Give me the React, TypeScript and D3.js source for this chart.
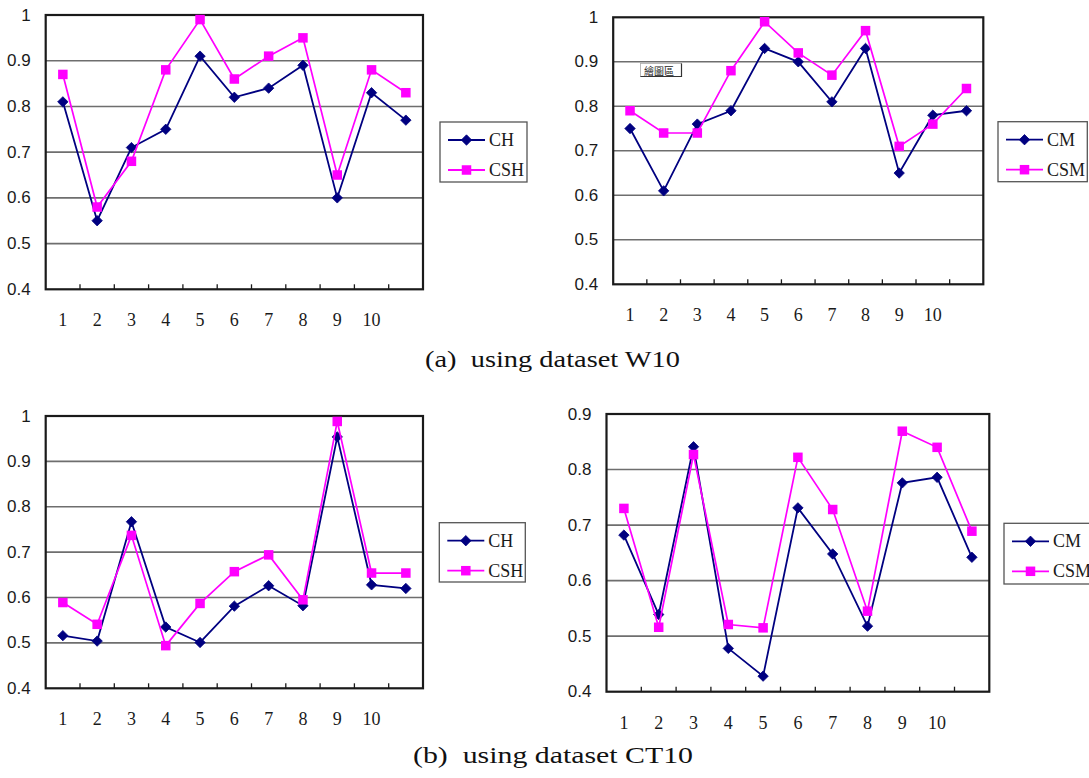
import React from "react";
import * as d3 from "d3";

const categories = ["1", "2", "3", "4", "5", "6", "7", "8", "9", "10", ""];
const yTicksW10 = [0.4, 0.5, 0.6, 0.7, 0.8, 0.9, 1.0];
const yTicksCT10H = [0.4, 0.5, 0.6, 0.7, 0.8, 0.9, 1.0];
const yTicksCT10M = [0.4, 0.5, 0.6, 0.7, 0.8, 0.9];

// (a) dataset W10
const w10CH = [0.81, 0.55, 0.71, 0.75, 0.91, 0.82, 0.84, 0.89, 0.60, 0.83, 0.77];
const w10CSH = [0.87, 0.58, 0.68, 0.88, 0.99, 0.86, 0.91, 0.95, 0.65, 0.88, 0.83];
const w10CM = [0.75, 0.61, 0.76, 0.79, 0.93, 0.90, 0.81, 0.93, 0.65, 0.78, 0.79];
const w10CSM = [0.79, 0.74, 0.74, 0.88, 0.99, 0.92, 0.87, 0.97, 0.71, 0.76, 0.84];
// (b) dataset CT10
const ct10CH = [0.516, 0.504, 0.767, 0.535, 0.501, 0.581, 0.626, 0.582, 0.954, 0.628, 0.620];
const ct10CSH = [0.589, 0.541, 0.737, 0.494, 0.587, 0.657, 0.694, 0.595, 0.988, 0.654, 0.654];
const ct10CM = [0.682, 0.539, 0.841, 0.478, 0.428, 0.731, 0.648, 0.518, 0.776, 0.786, 0.642];
const ct10CSM = [0.730, 0.516, 0.827, 0.521, 0.515, 0.822, 0.728, 0.545, 0.869, 0.840, 0.689];

const captionA = "(a)  using dataset W10";
const captionB = "(b)  using dataset CT10";
const plotAreaNote = "繪圖區";

const NAVY = "#000080";
const MAGENTA = "#FF00FF";
const GRID = "#6e6e6e";
const AXIS = "#1a1a1a";
const SERIF = "'Liberation Serif', 'Times New Roman', serif";
const SANS = "'Liberation Sans', Arial, sans-serif";

type Box = { x: number; y: number; w: number; h: number };
type PanelProps = {
  box: Box;
  ticks: number[];
  s1: number[];
  s2: number[];
  n1: string;
  n2: string;
  legend: Box;
};

const fmtY = (v: number) => (Math.abs(v - 1) < 1e-9 ? "1" : v.toFixed(1));

function Diamond({ cx, cy, r = 5.2 }: { cx: number; cy: number; r?: number }) {
  return (
    <path
      d={`M${cx},${cy - r}L${cx + r},${cy}L${cx},${cy + r}L${cx - r},${cy}Z`}
      fill={NAVY}
      stroke={NAVY}
      strokeWidth={0.8}
    />
  );
}

function Square({ cx, cy, s = 9.5 }: { cx: number; cy: number; s?: number }) {
  return <rect x={cx - s / 2} y={cy - s / 2} width={s} height={s} fill={MAGENTA} />;
}

function Panel({ box, ticks, s1, s2, n1, n2, legend }: PanelProps) {
  const idx = categories.map((_, i) => String(i));
  const x = d3.scaleBand<string>().domain(idx).range([box.x, box.x + box.w]).padding(0);
  const bw = x.bandwidth();
  const cx = (i: number) => (x(String(i)) as number) + bw / 2;
  const y = d3
    .scaleLinear()
    .domain([ticks[0], ticks[ticks.length - 1]])
    .range([box.y + box.h, box.y]);
  const line = d3
    .line<number>()
    .x((_, i) => cx(i))
    .y((d) => y(d));
  const bottom = box.y + box.h;

  return (
    <g>
      <rect x={box.x} y={box.y} width={box.w} height={box.h} fill="#fff" />
      {ticks.slice(1, -1).map((t) => (
        <line
          key={"g" + t}
          x1={box.x}
          x2={box.x + box.w}
          y1={y(t)}
          y2={y(t)}
          stroke={GRID}
          strokeWidth={1.6}
        />
      ))}
      <rect
        x={box.x}
        y={box.y}
        width={box.w}
        height={box.h}
        fill="none"
        stroke={AXIS}
        strokeWidth={2.2}
      />
      {idx.slice(1).map((k) => (
        <line
          key={"t" + k}
          x1={x(k) as number}
          x2={x(k) as number}
          y1={bottom}
          y2={bottom - 5}
          stroke={AXIS}
          strokeWidth={1.3}
        />
      ))}
      {ticks.map((t) => (
        <text
          key={"yl" + t}
          x={box.x - 15}
          y={y(t)}
          textAnchor="end"
          dominantBaseline="central"
          fontFamily={SANS}
          fontSize={17}
          fill="#1a1a1a"
        >
          {fmtY(t)}
        </text>
      ))}
      {categories.map((c, i) =>
        c ? (
          <text
            key={"xl" + i}
            x={cx(i)}
            y={bottom + 31}
            textAnchor="middle"
            dominantBaseline="central"
            fontFamily={SERIF}
            fontSize={18}
            fill="#1a1a1a"
          >
            {c}
          </text>
        ) : null
      )}
      <path d={line(s1) || ""} fill="none" stroke={NAVY} strokeWidth={1.8} />
      {s1.map((v, i) => (
        <Diamond key={"d" + i} cx={cx(i)} cy={y(v)} />
      ))}
      <path d={line(s2) || ""} fill="none" stroke={MAGENTA} strokeWidth={1.7} />
      {s2.map((v, i) => (
        <Square key={"s" + i} cx={cx(i)} cy={y(v)} />
      ))}
      <rect
        x={legend.x}
        y={legend.y}
        width={legend.w}
        height={legend.h}
        fill="#fff"
        stroke="#555"
        strokeWidth={1.3}
      />
      {[
        { name: n1, color: NAVY, dy: 18, kind: "d" },
        { name: n2, color: MAGENTA, dy: 48, kind: "s" },
      ].map((it) => {
        const ly = legend.y + it.dy;
        const lx1 = legend.x + 8;
        const lx2 = legend.x + 45;
        const mx = (lx1 + lx2) / 2;
        return (
          <g key={it.name}>
            <line x1={lx1} x2={lx2} y1={ly} y2={ly} stroke={it.color} strokeWidth={1.8} />
            {it.kind === "d" ? <Diamond cx={mx} cy={ly} /> : <Square cx={mx} cy={ly} />}
            <text
              x={legend.x + 49}
              y={ly}
              dominantBaseline="central"
              fontFamily={SERIF}
              fontSize={18}
              fill="#1a1a1a"
            >
              {it.name}
            </text>
          </g>
        );
      })}
    </g>
  );
}

export default function App() {
  return (
    <svg
      width={1089}
      height={778}
      style={{ position: "absolute", left: 0, top: 0, background: "#fff" }}
    >
      <rect x={0} y={0} width={1089} height={778} fill="#fff" />
      <Panel
        box={{ x: 45.7, y: 15, w: 377.3, h: 274.3 }}
        ticks={yTicksW10}
        s1={w10CH}
        s2={w10CSH}
        n1="CH"
        n2="CSH"
        legend={{ x: 440, y: 122, w: 87, h: 60 }}
      />
      <Panel
        box={{ x: 613.2, y: 17.3, w: 370.1, h: 267 }}
        ticks={yTicksW10}
        s1={w10CM}
        s2={w10CSM}
        n1="CM"
        n2="CSM"
        legend={{ x: 998, y: 121.7, w: 89.3, h: 60 }}
      />
      <g>
        <rect x={640.5} y={63.5} width={41} height={13} fill="#fff" stroke="#aaa" strokeWidth={0.8} />
        <path d="M681.5,63.5L681.5,76.5L640.5,76.5" fill="none" stroke="#333" strokeWidth={1.2} />
        <text
          x={644}
          y={70.5}
          dominantBaseline="central"
          fontFamily="'Noto Sans CJK TC', sans-serif"
          fontSize={10}
          fill="#222"
        >
          {plotAreaNote}
        </text>
      </g>
      <Panel
        box={{ x: 45.7, y: 416, w: 377.3, h: 272.3 }}
        ticks={yTicksCT10H}
        s1={ct10CH}
        s2={ct10CSH}
        n1="CH"
        n2="CSH"
        legend={{ x: 439.3, y: 522.7, w: 86, h: 59.3 }}
      />
      <Panel
        box={{ x: 606.5, y: 414, w: 382.8, h: 277.7 }}
        ticks={yTicksCT10M}
        s1={ct10CM}
        s2={ct10CSM}
        n1="CM"
        n2="CSM"
        legend={{ x: 1004, y: 523.3, w: 92, h: 60.7 }}
      />
      <text
        x={425}
        y={367}
        fontFamily={SERIF}
        fontSize={23}
        fill="#111"
        textLength={255}
        lengthAdjust="spacingAndGlyphs"
        style={{ whiteSpace: "pre" }}
      >
        {captionA}
      </text>
      <text
        x={413}
        y={763}
        fontFamily={SERIF}
        fontSize={23}
        fill="#111"
        textLength={280}
        lengthAdjust="spacingAndGlyphs"
        style={{ whiteSpace: "pre" }}
      >
        {captionB}
      </text>
    </svg>
  );
}
